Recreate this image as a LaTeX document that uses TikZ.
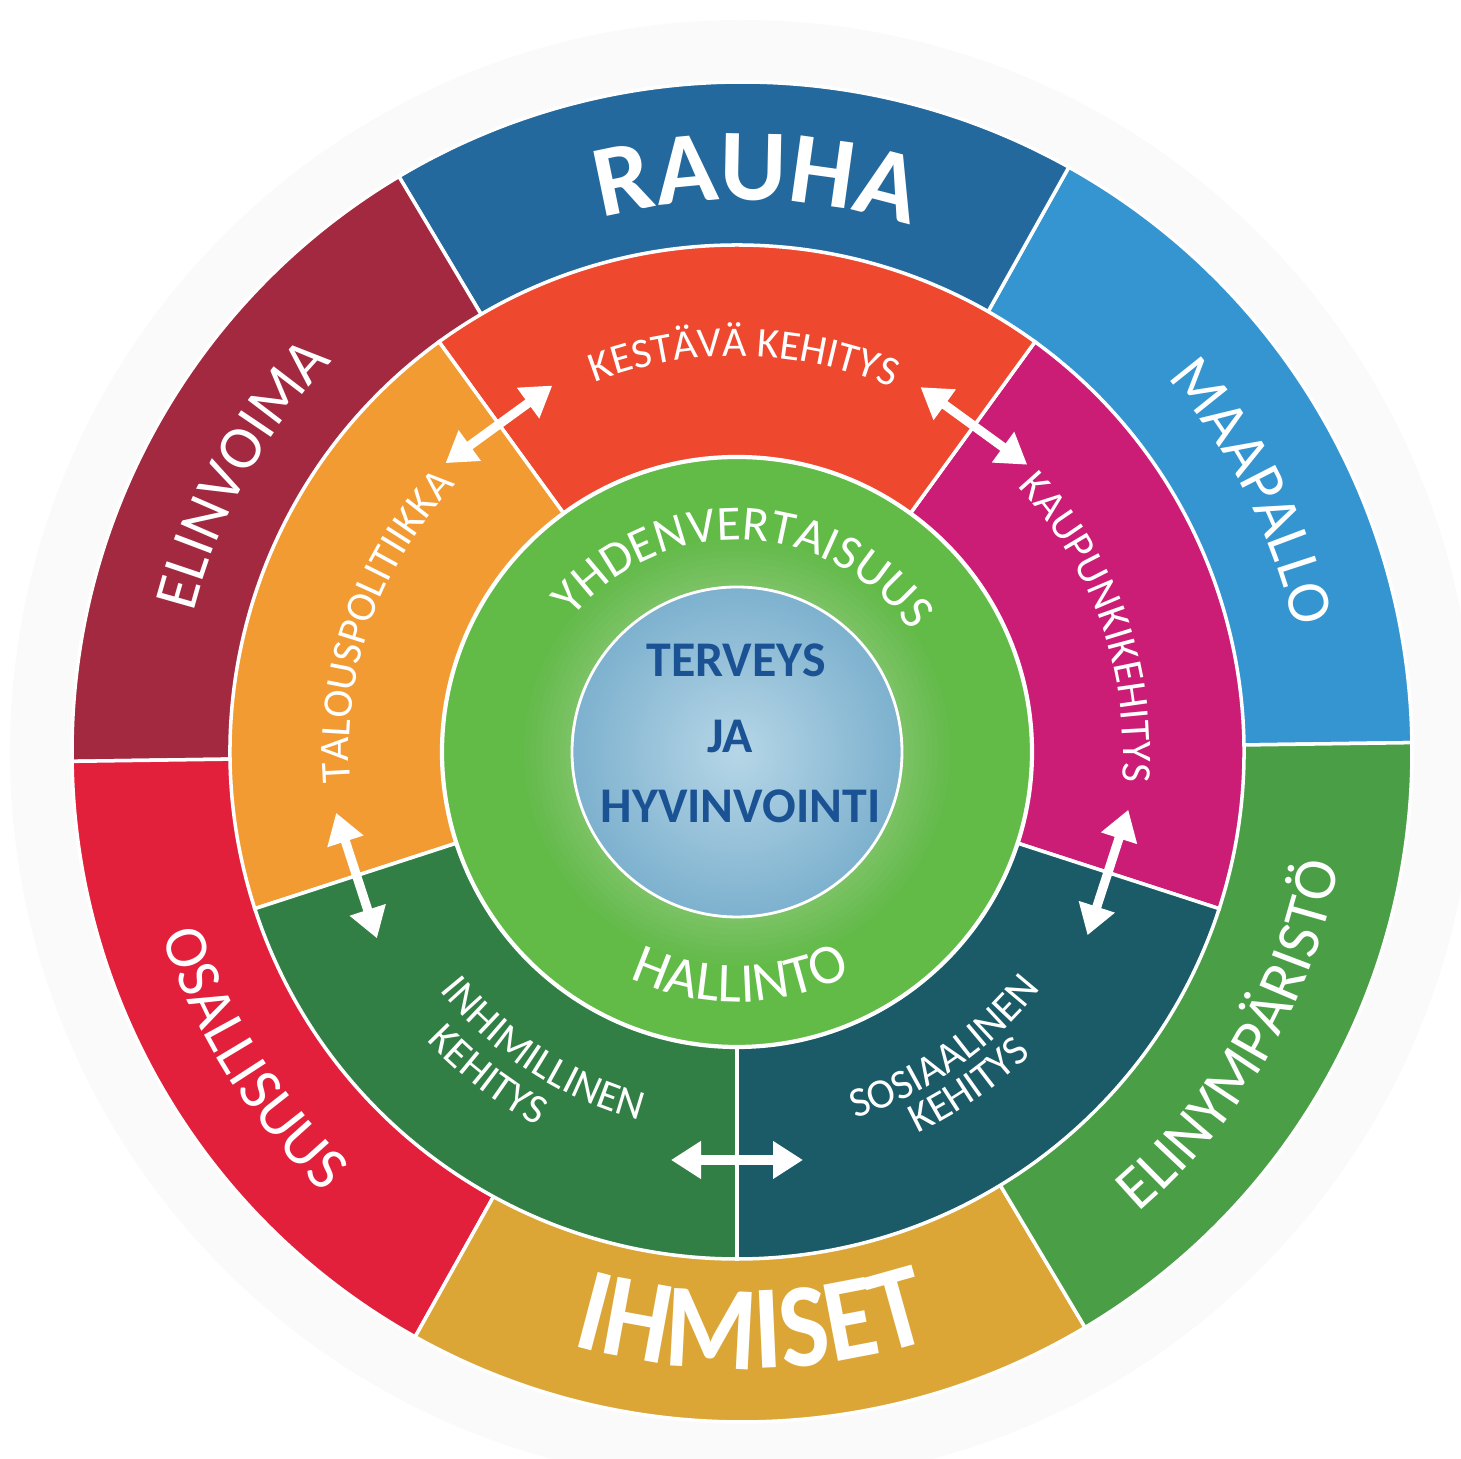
\documentclass[tikz,border=0pt]{standalone}
\usepackage{fontspec}
\setmainfont{Carlito}
\newfontfamily\tallfont[FakeStretch=0.88]{Carlito}
\usetikzlibrary{arrows.meta,decorations.text,calc}

\definecolor{rauha}{HTML}{23699D}
\definecolor{maapallo}{HTML}{3595D1}
\definecolor{elinymparisto}{HTML}{4A9E46}
\definecolor{ihmiset}{HTML}{DCA637}
\definecolor{osallisuus}{HTML}{E2203C}
\definecolor{elinvoima}{HTML}{A2293F}
\definecolor{kestava}{HTML}{EE482E}
\definecolor{kaupunki}{HTML}{CB1C76}
\definecolor{sosiaalinen}{HTML}{1A5B67}
\definecolor{inhimillinen}{HTML}{327F45}
\definecolor{talous}{HTML}{F29B32}
\definecolor{hallinto}{HTML}{62BA47}
\definecolor{pallo}{HTML}{7DB1CE}
\definecolor{pallovalo}{HTML}{B6D6E7}
\definecolor{teksti}{HTML}{1A5294}

\newcommand\bigtxt{\bfseries\fontsize{29}{30}\selectfont}
\newcommand\outertxt{\fontsize{17.5}{18}\selectfont}
\newcommand\midtxt{\fontsize{12}{13}\selectfont}

\begin{document}
\begin{tikzpicture}[
  seg/.style={draw=white, line width=1pt},
  twoway/.style={white, line width=2.6pt, {Triangle[length=3mm,width=3.6mm]}-{Triangle[length=3mm,width=3.6mm]}},
  ontext/.style={decorate, decoration={text along path, text align=center, text color=white, text={#1}}},
  centertxt/.style={font=\bfseries\fontsize{14.2}{15}\selectfont, text=teksti}
]
\useasboundingbox (-7.37,-7.07) rectangle (7.24,7.52);
\coordinate (oc) at (0.05,0); % centre of the outer ring
\fill[black!2] (oc) circle (7.32);

% outer ring
\foreach \a/\c in {0.8/maapallo,60.8/rauha,120.8/elinvoima,180.8/osallisuus,240.8/ihmiset,300.8/elinymparisto}
  \filldraw[seg, fill=\c] (oc) -- ++(\a:6.7) arc[start angle=\a, delta angle=60, radius=6.7] -- cycle;

% middle ring
\foreach \a/\c in {-18/kaupunki,54/kestava,126/talous,198/inhimillinen,270/sosiaalinen}
  \filldraw[seg, fill=\c] (0,0) -- (\a:5.07) arc[start angle=\a, delta angle=72, radius=5.07] -- cycle;

% inner circle and the ball
\filldraw[fill=hallinto, draw=white, line width=1.2pt] (0,0) circle (2.95);
\foreach \i in {1,...,8}
  \fill[white, opacity=0.025] (0,0) circle[radius={1.65+0.06*\i}];
\shade[inner color=pallovalo, outer color=pallo] (0,0) circle (1.65);
\draw[white, line width=0.8pt] (0,0) circle (1.65);

% texts of the outer ring
\begin{scope}[shift={(oc)}]
  \path[ontext={|\bigtxt|RAUHA}] (118.5:5.52) arc[start angle=118.5, end angle=58.5, radius=5.52];
  \path[ontext={|\outertxt|MAAPALLO}] (57:5.66) arc[start angle=57, end angle=-3, radius=5.66];
  \path[ontext={|\outertxt|ELINVOIMA}] (181:5.66) arc[start angle=181, end angle=121, radius=5.66];
  \path[ontext={|\tallfont\bfseries\fontsize{34}{35}\selectfont|IHMISET}] (241:6.17) arc[start angle=241, end angle=301, radius=6.17];
  \path[ontext={|\outertxt|OSALLISUUS}] (182:6.08) arc[start angle=182, end angle=242, radius=6.08];
  \path[ontext={|\outertxt|ELINYMPÄRISTÖ}] (-60:6.08) arc[start angle=-60, end angle=0, radius=6.08];
\end{scope}

% texts of the middle ring
\path[ontext={|\midtxt|KESTÄVÄ KEHITYS}] (129:3.96) arc[start angle=129, end angle=49, radius=3.96];
\path[ontext={|\midtxt|KAUPUNKIKEHITYS}] (59.5:3.86) arc[start angle=59.5, end angle=-20.5, radius=3.86];
\path[ontext={|\midtxt|TALOUSPOLITIIKKA}] (200.5:3.88) arc[start angle=200.5, end angle=120.5, radius=3.88];
\path[ontext={|\midtxt|INHIMILLINEN}] (197:3.81) arc[start angle=197, end angle=277, radius=3.81];
\path[ontext={|\midtxt|KEHITYS}] (192.4:4.24) arc[start angle=192.4, end angle=272.4, radius=4.24];
\path[ontext={|\midtxt|SOSIAALINEN}] (265:3.85) arc[start angle=265, end angle=345, radius=3.85];
\path[ontext={|\midtxt|KEHITYS}] (264.8:4.22) arc[start angle=264.8, end angle=344.8, radius=4.22];

% texts of the green circle
\path[ontext={|\fontsize{14}{15}\selectfont|YHDENVERTAISUUS}] (157.7:2.12) arc[start angle=157.7, end angle=17.7, radius=2.12];
\path[ontext={|\fontsize{16}{17}\selectfont|HALLINTO}] (221:2.5) arc[start angle=221, end angle=321, radius=2.5];

\node[centertxt] (terveys) at (-0.01,0.915) {TERVEYS};
\node[centertxt] (ja) at (-0.07,0.155) {JA};
\node[centertxt] (hyvinvointi) at (0.035,-0.545) {HYVINVOINTI};

% arrows between the sectors
\foreach \a/\r in {54/4.03,126/4.05,198/4.0,270/4.08,342/3.9} {
  \coordinate (s\a) at ($(\a:\r)+(\a-90:0.66)$);
  \coordinate (e\a) at ($(\a:\r)+(\a+90:0.66)$);
  \draw[twoway] (s\a) -- (e\a);
}
\end{tikzpicture}
\end{document}
